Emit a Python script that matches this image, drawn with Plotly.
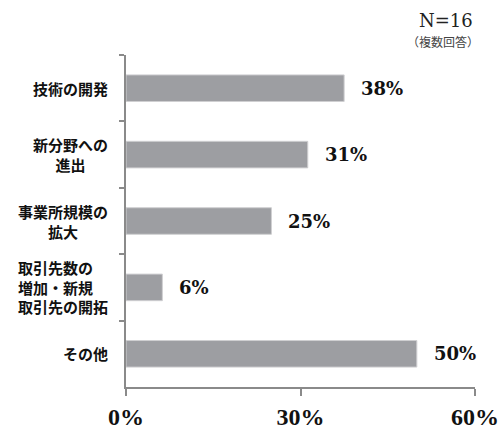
import plotly.graph_objects as go

# 回答項目（上から順）と割合（N=16、複数回答）
categories = [
    "技術の開発",
    "新分野への<br>進出",
    "事業所規模の<br>拡大",
    "取引先数の<br>増加・新規<br>取引先の開拓",
    "その他",
]
values = [37.5, 31.25, 25.0, 6.25, 50.0]
label_align = ["center", "center", "center", "left", "center"]
x_ticks = [0, 30, 60]
x_tick_labels = [f"{t}%" for t in x_ticks]

BAR_COLOR = "#9d9ea2"
AXIS_COLOR = "#8a8a8a"
JP_FONT = "Noto Sans CJK JP"
NUM_FONT = "DejaVu Serif"

fig = go.Figure(
    go.Bar(
        x=values,
        y=categories,
        orientation="h",
        marker=dict(color=BAR_COLOR, line=dict(color="#cfcfd1", width=1)),
        hoverinfo="skip",
    )
)

annotations = []
# 項目名
for cat, al in zip(categories, label_align):
    annotations.append(dict(
        x=0, xref="paper", y=cat, yref="y",
        text=cat, showarrow=False, xanchor="right", yanchor="middle",
        xshift=-16, align=al,
        font=dict(family=JP_FONT, size=15, color="#111111", weight="bold"),
    ))
# 値ラベル
for cat, v in zip(categories, values):
    annotations.append(dict(
        x=v, xref="x", y=cat, yref="y",
        text=f"{v:.0f}%", showarrow=False, xanchor="left", yanchor="middle",
        xshift=15,
        font=dict(family=NUM_FONT, size=18, color="#111111", weight="bold"),
    ))
# 回答者数
annotations.append(dict(
    x=1.0, xref="paper", y=1.0, yref="paper", xshift=0, yshift=35,
    text="N=16", showarrow=False, xanchor="right", yanchor="middle",
    font=dict(family=NUM_FONT, size=18, color="#222222"),
))
annotations.append(dict(
    x=1.0, xref="paper", y=1.0, yref="paper", xshift=6, yshift=14,
    text="（複数回答）", showarrow=False, xanchor="right", yanchor="middle",
    font=dict(family=JP_FONT, size=12, color="#444444"),
))

fig.update_layout(
    width=504, height=430,
    margin=dict(l=126, r=29, t=55, b=43),
    paper_bgcolor="white", plot_bgcolor="white",
    bargap=0.6,
    showlegend=False,
    annotations=annotations,
    xaxis=dict(
        range=[0, 60], tickvals=x_ticks, ticktext=x_tick_labels,
        automargin=False,
        showgrid=False, zeroline=False,
        showline=True, linecolor=AXIS_COLOR, linewidth=1.5,
        ticks="outside", ticklen=7, tickcolor=AXIS_COLOR, tickwidth=1.5,
        tickfont=dict(family="Liberation Serif", size=24, color="#111111", weight="bold"),
        fixedrange=True,
    ),
    yaxis=dict(
        type="category", categoryorder="array", categoryarray=categories,
        autorange="reversed", automargin=False,
        showticklabels=False, showgrid=False, zeroline=False,
        showline=True, linecolor=AXIS_COLOR, linewidth=1.5,
        ticks="outside", tickson="boundaries", ticklen=5,
        tickcolor=AXIS_COLOR, tickwidth=1.5,
        fixedrange=True,
    ),
)

fig.write_html("out.html", config={"displayModeBar": False})
